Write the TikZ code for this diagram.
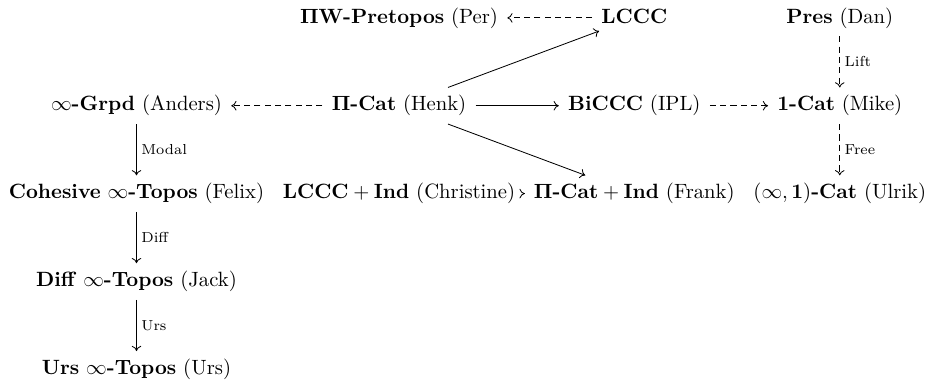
\documentclass[tikz,border=0pt]{standalone}
\usetikzlibrary{matrix,arrows.meta}
\begin{document}
\begin{tikzpicture}[
  cell/.style={anchor=base, inner xsep=1ex, inner ysep=0.85ex, text height=7.5pt, text depth=2.5pt},
  flatcell/.style={text height=5pt, text depth=0pt},
  arr/.style={-{Computer Modern Rightarrow[length=2.5pt, width=4.6pt]}, line width=0.4pt},
  dsh/.style={arr, dash pattern=on 3pt off 2pt},
  lbl/.style={right, font=\scriptsize, inner sep=0.5ex}
]
\matrix (m) [matrix of nodes, inner sep=0pt, column sep=0.5pt, row sep=25.2pt, nodes={cell}] {
 & |(per)| $\mathbf{\Pi}$\textbf{W-Pretopos} (Per) & |[flatcell] (lccc)| \textbf{LCCC} & |(dan)| \textbf{Pres} (Dan) \\
 |(anders)| $\infty$\textbf{-Grpd} (Anders) & |(henk)| $\mathbf{\Pi}$\textbf{-Cat} (Henk) & |(biccc)| \textbf{BiCCC} (IPL) & |(mike)| \textbf{1-Cat} (Mike) \\
 |(felix)| \textbf{Cohesive} $\infty$\textbf{-Topos} (Felix) & |(christine)| $\mathbf{LCCC}+\mathbf{Ind}$ (Christine) & |(frank)| $\mathbf{\Pi}\textbf{-Cat}+\mathbf{Ind}$ (Frank) & |(ulrik)| $(\infty,\mathbf{1})$\textbf{-Cat} (Ulrik) \\
 |(jack)| \textbf{Diff} $\infty$\textbf{-Topos} (Jack) \\
 |(urs)| \textbf{Urs} $\infty$\textbf{-Topos} (Urs) \\
};
\draw[dsh] (henk) -- (anders);
\draw[dsh] (lccc) -- (per);
\draw[arr] (henk) -- (lccc);
\draw[arr] (henk) -- (biccc);
\draw[arr] (henk) -- (frank);
\draw[dsh] (biccc) -- (mike);
\draw[dsh] (dan) -- node[lbl]{Lift} (mike);
\draw[dsh] (mike) -- node[lbl]{Free} (ulrik);
\draw[arr] (anders) -- node[lbl]{Modal} (felix);
\draw[arr] (felix) -- node[lbl]{Diff} (jack);
\draw[arr] (jack) -- node[lbl]{Urs} (urs);
\draw[arr] (christine) -- (frank);
\end{tikzpicture}
\end{document}
